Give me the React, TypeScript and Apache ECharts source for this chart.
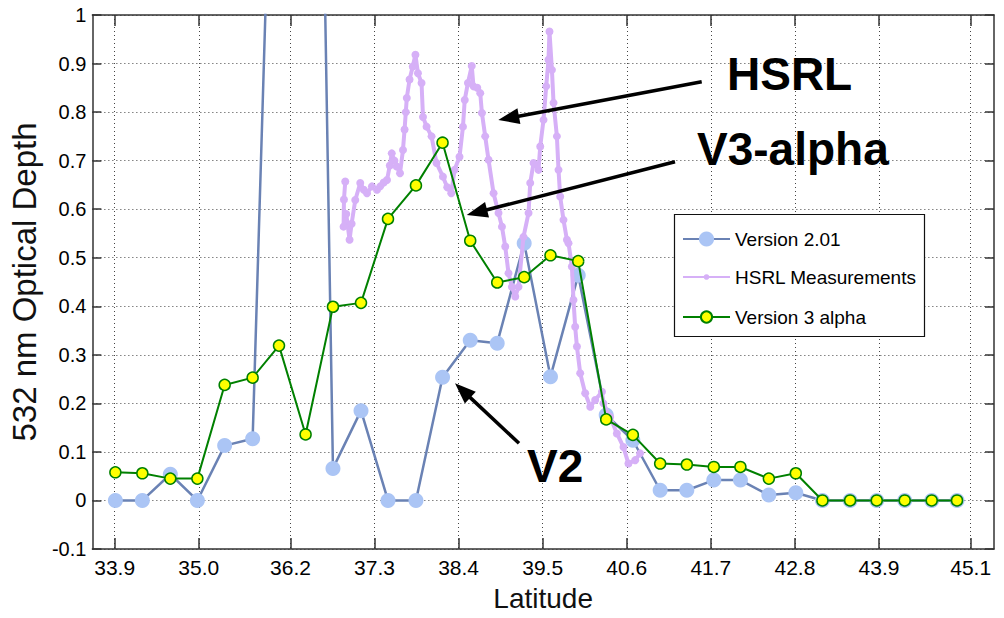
import React, { useEffect, useRef } from 'react';
import * as echarts from 'echarts';

// Tick labels of the latitude axis
const xTickValues = [33.9, 35.0, 36.2, 37.3, 38.4, 39.5, 40.6, 41.7, 42.8, 43.9, 45.1];

// Latitudes of the CALIPSO retrieval points (shared by V2.01 and V3 alpha)
const retrievalLatitudes = [
  33.909, 34.262, 34.628, 34.982, 35.339, 35.705, 36.05, 36.398, 36.756, 37.123,
  37.476, 37.842, 38.19, 38.552, 38.905, 39.258, 39.602, 39.965, 40.331, 40.68,
  41.037, 41.386, 41.739, 42.087, 42.459, 42.812, 43.16, 43.522, 43.871, 44.237,
  44.59, 44.921,
];

const version201 = [
  0, 0, 0.054, 0, 0.113, 0.127, 1.94, 3.39, 0.066, 0.185,
  0, 0, 0.254, 0.33, 0.324, 0.53, 0.255, 0.464, 0.176, 0.124,
  0.021, 0.021, 0.042, 0.042, 0.011, 0.016, 0, 0, 0, 0,
  0, 0,
];

const version3alpha = [
  0.058, 0.056, 0.045, 0.045, 0.238, 0.253, 0.319, 0.136, 0.399, 0.407,
  0.58, 0.649, 0.737, 0.535, 0.449, 0.46, 0.505, 0.493, 0.167, 0.135,
  0.076, 0.074, 0.069, 0.069, 0.045, 0.056, 0, 0, 0, 0,
  0, 0,
];

const hsrlLatitudes = [
  36.917, 36.9, 36.895, 36.93, 36.973, 37.0, 37.048, 37.113, 37.16, 37.201,
  37.266, 37.332, 37.375, 37.42, 37.463, 37.5, 37.525, 37.56, 37.591, 37.633,
  37.672, 37.693, 37.709, 37.722, 37.758, 37.8, 37.835, 37.868, 37.915, 37.934,
  37.981, 38.046, 38.111, 38.195, 38.251, 38.304, 38.347, 38.412, 38.457, 38.48,
  38.522, 38.572, 38.595, 38.644, 38.683, 38.705, 38.748, 38.791, 38.857, 38.922,
  38.967, 39.01, 39.053, 39.097, 39.141, 39.184, 39.249, 39.315, 39.337, 39.38,
  39.445, 39.468, 39.511, 39.546, 39.576, 39.589, 39.621, 39.642, 39.686, 39.707,
  39.729, 39.772, 39.817, 39.838, 39.882, 39.903, 39.925, 39.948, 39.991, 40.056,
  40.122, 40.187, 40.275, 40.295, 40.383, 40.471, 40.557, 40.622, 40.71, 40.775,
];

const hsrlDepths = [
  0.657, 0.62, 0.564, 0.59, 0.537, 0.57, 0.619, 0.654, 0.64, 0.633,
  0.647, 0.64, 0.647, 0.655, 0.66, 0.69, 0.715, 0.7, 0.688, 0.674,
  0.722, 0.764, 0.8, 0.829, 0.867, 0.894, 0.918, 0.88, 0.86, 0.79,
  0.77, 0.75, 0.695, 0.667, 0.645, 0.633, 0.681, 0.708, 0.77, 0.825,
  0.86, 0.895, 0.853, 0.85, 0.839, 0.798, 0.75, 0.702, 0.633, 0.592,
  0.564, 0.523, 0.468, 0.44, 0.42, 0.44, 0.543, 0.592, 0.654, 0.695,
  0.681, 0.729, 0.784, 0.853, 0.908, 0.966, 0.887, 0.819, 0.75, 0.681,
  0.626, 0.578, 0.537, 0.53, 0.482, 0.413, 0.358, 0.317, 0.262, 0.221,
  0.193, 0.207, 0.224, 0.2, 0.172, 0.138, 0.11, 0.076, 0.083, 0.097,
];

const FONT = '"Liberation Sans", Arial, Helvetica, sans-serif';

function arrow(x1: number, y1: number, x2: number, y2: number) {
  const dx = x2 - x1;
  const dy = y2 - y1;
  const len = Math.hypot(dx, dy);
  const ux = dx / len;
  const uy = dy / len;
  const head = 21;
  const half = 8;
  const bx = x2 - ux * head;
  const by = y2 - uy * head;
  return [
    {
      type: 'line',
      z: 20,
      shape: { x1, y1, x2: bx + ux * 3, y2: by + uy * 3 },
      style: { stroke: '#000', lineWidth: 3.5 },
    },
    {
      type: 'polygon',
      z: 20,
      shape: {
        points: [
          [x2, y2],
          [bx - uy * half, by + ux * half],
          [bx + uy * half, by - ux * half],
        ],
      },
      style: { fill: '#000' },
    },
  ];
}

export default function App() {
  const ref = useRef<HTMLDivElement>(null);

  useEffect(() => {
    if (!ref.current) return;
    const chart = echarts.init(ref.current, undefined, { renderer: 'svg' });

    const axisLineStyle = { color: '#333', width: 1.5 };
    const gridLine = { show: true, lineStyle: { type: [1, 3], color: '#444', width: 1 } };
    const xMin = 33.608;
    const xMax = 45.405;

    const legendText = { fontSize: 19, color: '#000', fontFamily: FONT };
    const legendCommon = {
      orient: 'vertical',
      left: 682,
      padding: 0,
      itemWidth: 47,
      selectedMode: false,
      textStyle: legendText,
      z: 10,
    };

    chart.setOption({
      animation: false,
      backgroundColor: '#fff',
      grid: { left: 92, right: 10, top: 15, bottom: 69, containLabel: false },
      xAxis: [
        {
          type: 'value',
          min: xMin,
          max: xMax,
          position: 'bottom',
          axisLine: { show: true, onZero: false, lineStyle: axisLineStyle },
          axisTick: { show: true, inside: true, length: 11, customValues: xTickValues, lineStyle: axisLineStyle },
          axisLabel: {
            customValues: xTickValues,
            formatter: (v: number) => v.toFixed(1),
            fontSize: 21,
            color: '#000',
            fontFamily: FONT,
            margin: 8,
          },
          splitLine: gridLine,
          name: 'Latitude',
          nameLocation: 'middle',
          nameGap: 35,
          nameTextStyle: { fontSize: 28, color: '#111', fontFamily: FONT },
        },
        {
          type: 'value',
          min: xMin,
          max: xMax,
          position: 'top',
          axisLine: { show: true, onZero: false, lineStyle: axisLineStyle },
          axisTick: { show: true, inside: true, length: 11, customValues: xTickValues, lineStyle: axisLineStyle },
          axisLabel: { show: false },
          splitLine: { show: false },
        },
      ],
      yAxis: [
        {
          type: 'value',
          min: -0.1,
          max: 1,
          interval: 0.1,
          position: 'left',
          axisLine: { show: true, onZero: false, lineStyle: axisLineStyle },
          axisTick: { show: true, inside: true, length: 9, lineStyle: axisLineStyle },
          axisLabel: { fontSize: 20, color: '#000', fontFamily: FONT, margin: 6 },
          splitLine: gridLine,
          name: '532 nm Optical Depth',
          nameLocation: 'middle',
          nameGap: 39,
          nameTextStyle: { fontSize: 33, color: '#111', fontFamily: FONT },
        },
        {
          type: 'value',
          min: -0.1,
          max: 1,
          interval: 0.1,
          position: 'right',
          axisLine: { show: true, onZero: false, lineStyle: axisLineStyle },
          axisTick: { show: true, inside: true, length: 9, lineStyle: axisLineStyle },
          axisLabel: { show: false },
          splitLine: { show: false },
        },
      ],
      legend: [
        { ...legendCommon, data: ['Version 2.01'], top: 239 - 9.5, itemHeight: 19 },
        { ...legendCommon, data: ['HSRL Measurements'], top: 277 - 9.5, itemHeight: 7 },
        { ...legendCommon, data: ['Version 3 alpha'], top: 317 - 9.5, itemHeight: 14 },
      ],
      series: [
        {
          name: 'Version 2.01',
          type: 'line',
          xAxisIndex: 0,
          yAxisIndex: 0,
          data: retrievalLatitudes.map((x, i) => [x, version201[i]]),
          symbol: 'circle',
          symbolSize: 15,
          showAllSymbol: true,
          clip: true,
          lineStyle: { color: '#6a82b4', width: 2.5 },
          itemStyle: { color: '#abc5f5' },
          z: 2,
        },
        {
          name: 'HSRL Measurements',
          type: 'line',
          xAxisIndex: 0,
          yAxisIndex: 0,
          data: hsrlLatitudes.map((x, i) => [x, hsrlDepths[i]]),
          symbol: 'circle',
          symbolSize: 8,
          showAllSymbol: true,
          clip: true,
          lineStyle: { color: '#d6b0f7', width: 4 },
          itemStyle: { color: '#d6b0f7' },
          z: 3,
        },
        {
          name: 'Version 3 alpha',
          type: 'line',
          xAxisIndex: 0,
          yAxisIndex: 0,
          data: retrievalLatitudes.map((x, i) => [x, version3alpha[i]]),
          symbol: 'circle',
          symbolSize: 11,
          showAllSymbol: true,
          clip: true,
          lineStyle: { color: '#008000', width: 2 },
          itemStyle: { color: '#ffff00', borderColor: '#008000', borderWidth: 1.5 },
          z: 4,
        },
      ],
      graphic: [
        {
          type: 'rect',
          z: 9,
          shape: { x: 674.5, y: 214.5, width: 250, height: 122 },
          style: { fill: '#fff', stroke: '#111', lineWidth: 1.2 },
        },
        {
          type: 'text',
          z: 20,
          x: 727,
          y: 51,
          style: { text: 'HSRL', fontSize: 46, fontWeight: 'bold', fontFamily: FONT, fill: '#000' },
        },
        {
          type: 'text',
          z: 20,
          x: 697,
          y: 126,
          style: { text: 'V3-alpha', fontSize: 46, fontWeight: 'bold', fontFamily: FONT, fill: '#000' },
        },
        {
          type: 'text',
          z: 20,
          x: 527,
          y: 443,
          style: { text: 'V2', fontSize: 46, fontWeight: 'bold', fontFamily: FONT, fill: '#000' },
        },
        ...arrow(701.7, 81.7, 498.3, 120),
        ...arrow(675, 161.7, 466.7, 215),
        ...arrow(519, 443.3, 455, 383.3),
      ],
    });

    return () => chart.dispose();
  }, []);

  return (
    <div
      ref={ref}
      style={{ position: 'fixed', left: 0, top: 0, width: 1004, height: 618, background: '#fff' }}
    />
  );
}
